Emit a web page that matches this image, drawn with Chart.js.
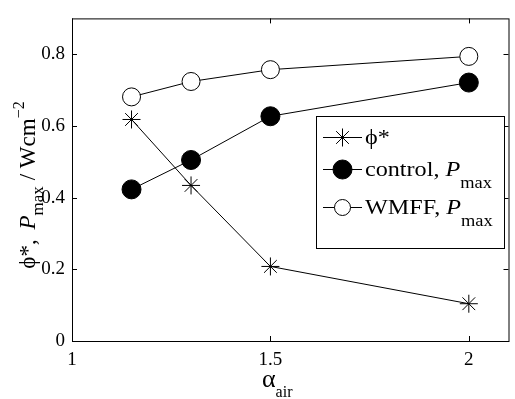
<!DOCTYPE html>
<html>
<head>
<meta charset="utf-8">
<script src="https://cdn.jsdelivr.net/npm/chart.js@4/dist/chart.umd.min.js"></script>
<style>
  html, body { margin: 0; padding: 0; background: #fff; overflow: hidden; }
  #wrap { position: absolute; left: 0; top: 0; width: 519px; height: 399px; }
</style>
</head>
<body>
<div id="wrap"><canvas id="chart" width="519" height="399"></canvas></div>
<script>
// data
const airRatio = [1.15, 1.3, 1.5, 2];
const phiStar = [0.618, 0.434, 0.208, 0.104];
const controlPmax = [0.423, 0.505, 0.627, 0.721];
const wmffPmax = [0.681, 0.724, 0.757, 0.794];
const xTicks = [1, 1.5, 2];
const yTicks = [0, 0.2, 0.4, 0.6, 0.8];

const SERIF = "'Liberation Serif', serif";

function pts(ys) {
    return airRatio.map((x, i) => ({ x: x, y: ys[i] }));
}

// frame with inward tick marks on all four sides (matlab style)
const framePlugin = {
    id: 'frame',
    beforeDatasetsDraw(chart) {
        const { ctx, chartArea: a, scales } = chart;
        ctx.save();
        ctx.strokeStyle = '#000';
        ctx.lineWidth = 1;
        ctx.strokeRect(a.left + 0.5, a.top + 0.5, a.right - a.left, a.bottom - a.top);
        ctx.beginPath();
        xTicks.forEach(v => {
            const px = Math.round(scales.x.getPixelForValue(v)) + 0.5;
            ctx.moveTo(px, a.bottom); ctx.lineTo(px, a.bottom - 5);
            ctx.moveTo(px, a.top); ctx.lineTo(px, a.top + 5);
        });
        yTicks.forEach(v => {
            const py = Math.round(scales.y.getPixelForValue(v)) + 0.5;
            ctx.moveTo(a.left, py); ctx.lineTo(a.left + 5, py);
            ctx.moveTo(a.right, py); ctx.lineTo(a.right - 5, py);
        });
        ctx.stroke();
        ctx.restore();
    }
};

// draws a run of text pieces (with sub/superscripts) from x along baseline y,
// sx stretches glyphs along the run (the original figure is a little wide)
function drawPieces(ctx, pieces, x, y, sx) {
    sx = sx || 1;
    pieces.forEach(p => {
        ctx.font = p.font;
        ctx.save();
        ctx.translate(x, y + (p.dy || 0));
        ctx.scale(sx, 1);
        ctx.fillText(p.text, 0, 0);
        ctx.restore();
        x += (ctx.measureText(p.text).width + (p.gap || 0)) * sx;
    });
    return x;
}
function piecesWidth(ctx, pieces) {
    let w = 0;
    pieces.forEach(p => { ctx.font = p.font; w += ctx.measureText(p.text).width + (p.gap || 0); });
    return w;
}

const labelsPlugin = {
    id: 'labels',
    afterDraw(chart) {
        const { ctx } = chart;
        ctx.save();
        ctx.fillStyle = '#000';
        ctx.textBaseline = 'alphabetic';
        ctx.textAlign = 'left';

        // y axis title, rotated
        const yTitle = [
            { text: 'ϕ*', font: '23px ' + SERIF },
            { text: ', ', font: '23px ' + SERIF, gap: 4 },
            { text: 'P', font: 'italic 23px ' + SERIF },
            { text: 'max', font: '17px ' + SERIF, dy: 8, gap: 6 },
            { text: '/ Wcm', font: '23px ' + SERIF },
            { text: '−2', font: '16px ' + SERIF, dy: -11 }
        ];
        const tw = piecesWidth(ctx, yTitle);
        ctx.save();
        ctx.translate(35, 185);
        ctx.rotate(-Math.PI / 2);
        drawPieces(ctx, yTitle, -tw / 2, 0);
        ctx.restore();

        // x axis title
        drawPieces(ctx, [
            { text: 'α', font: '26px ' + SERIF },
            { text: 'air', font: '16px ' + SERIF, dy: 10 }
        ], 262, 387);

        // legend
        const lx = 316, ly = 116, lw = 188, lh = 132;
        ctx.fillStyle = '#fff';
        ctx.fillRect(lx, ly, lw, lh);
        ctx.strokeStyle = '#000';
        ctx.lineWidth = 1;
        ctx.strokeRect(lx + 0.5, ly + 0.5, lw, lh);
        const rows = [
            { y: 137, style: 'star', fill: '#000', r: 9, text: [{ text: 'ϕ*', font: '21px ' + SERIF }] },
            { y: 169, style: 'circle', fill: '#000', r: 9.5, text: [
                { text: 'control, ', font: '21px ' + SERIF },
                { text: 'P', font: 'italic 21px ' + SERIF },
                { text: 'max', font: '16px ' + SERIF, dy: 12 }] },
            { y: 207, style: 'circle', fill: '#fff', r: 8, text: [
                { text: 'WMFF, ', font: '21px ' + SERIF },
                { text: 'P', font: 'italic 21px ' + SERIF },
                { text: 'max', font: '16px ' + SERIF, dy: 12 }] }
        ];
        rows.forEach(row => {
            ctx.strokeStyle = '#000';
            ctx.beginPath();
            ctx.moveTo(323, row.y + 0.5);
            ctx.lineTo(362, row.y + 0.5);
            ctx.stroke();
            ctx.fillStyle = row.fill;
            Chart.helpers.drawPoint(ctx, { pointStyle: row.style, radius: row.r, borderWidth: 1, rotation: 0 }, 342.5, row.y + 0.5);
            ctx.fillStyle = '#000';
            drawPieces(ctx, row.text, 365, row.y + 7, 1.15);
        });
        ctx.restore();
    }
};

new Chart(document.getElementById('chart'), {
    type: 'scatter',
    data: {
        datasets: [
            {
                label: 'ϕ*',
                data: pts(phiStar),
                showLine: true,
                borderColor: '#000',
                borderWidth: 1,
                pointStyle: 'star',
                pointRadius: 9,
                pointBorderColor: '#000',
                pointBackgroundColor: '#000',
                pointBorderWidth: 1
            },
            {
                label: 'control, Pmax',
                data: pts(controlPmax),
                showLine: true,
                borderColor: '#000',
                borderWidth: 1,
                pointStyle: 'circle',
                pointRadius: 9.5,
                pointBorderColor: '#000',
                pointBackgroundColor: '#000',
                pointBorderWidth: 1
            },
            {
                label: 'WMFF, Pmax',
                data: pts(wmffPmax),
                showLine: true,
                borderColor: '#000',
                borderWidth: 1,
                pointStyle: 'circle',
                pointRadius: 9,
                pointBorderColor: '#000',
                pointBackgroundColor: '#fff',
                pointBorderWidth: 1
            }
        ]
    },
    options: {
        responsive: false,
        animation: false,
        events: [],
        layout: { padding: { top: 12, right: 2, left: 0, bottom: 0 } },
        plugins: {
            legend: { display: false },
            tooltip: { enabled: false }
        },
        scales: {
            x: {
                type: 'linear',
                min: 1,
                max: 2.1,
                afterBuildTicks: (scale) => { scale.ticks = xTicks.map(v => ({ value: v })); },
                afterFit: (scale) => { scale.height = 58; },
                grid: { display: false, drawTicks: false },
                border: { display: false },
                ticks: {
                    color: '#000',
                    font: { family: SERIF, size: 19 },
                    padding: 8,
                    maxRotation: 0,
                    callback: (v) => String(v)
                }
            },
            y: {
                min: 0,
                max: 0.9,
                afterBuildTicks: (scale) => { scale.ticks = yTicks.map(v => ({ value: v })); },
                afterFit: (scale) => { scale.width = 72; },
                grid: { display: false, drawTicks: false },
                border: { display: false },
                ticks: {
                    color: '#000',
                    font: { family: SERIF, size: 19 },
                    padding: 7,
                    callback: (v) => String(v)
                }
            }
        }
    },
    plugins: [framePlugin, labelsPlugin]
});
</script>
</body>
</html>
